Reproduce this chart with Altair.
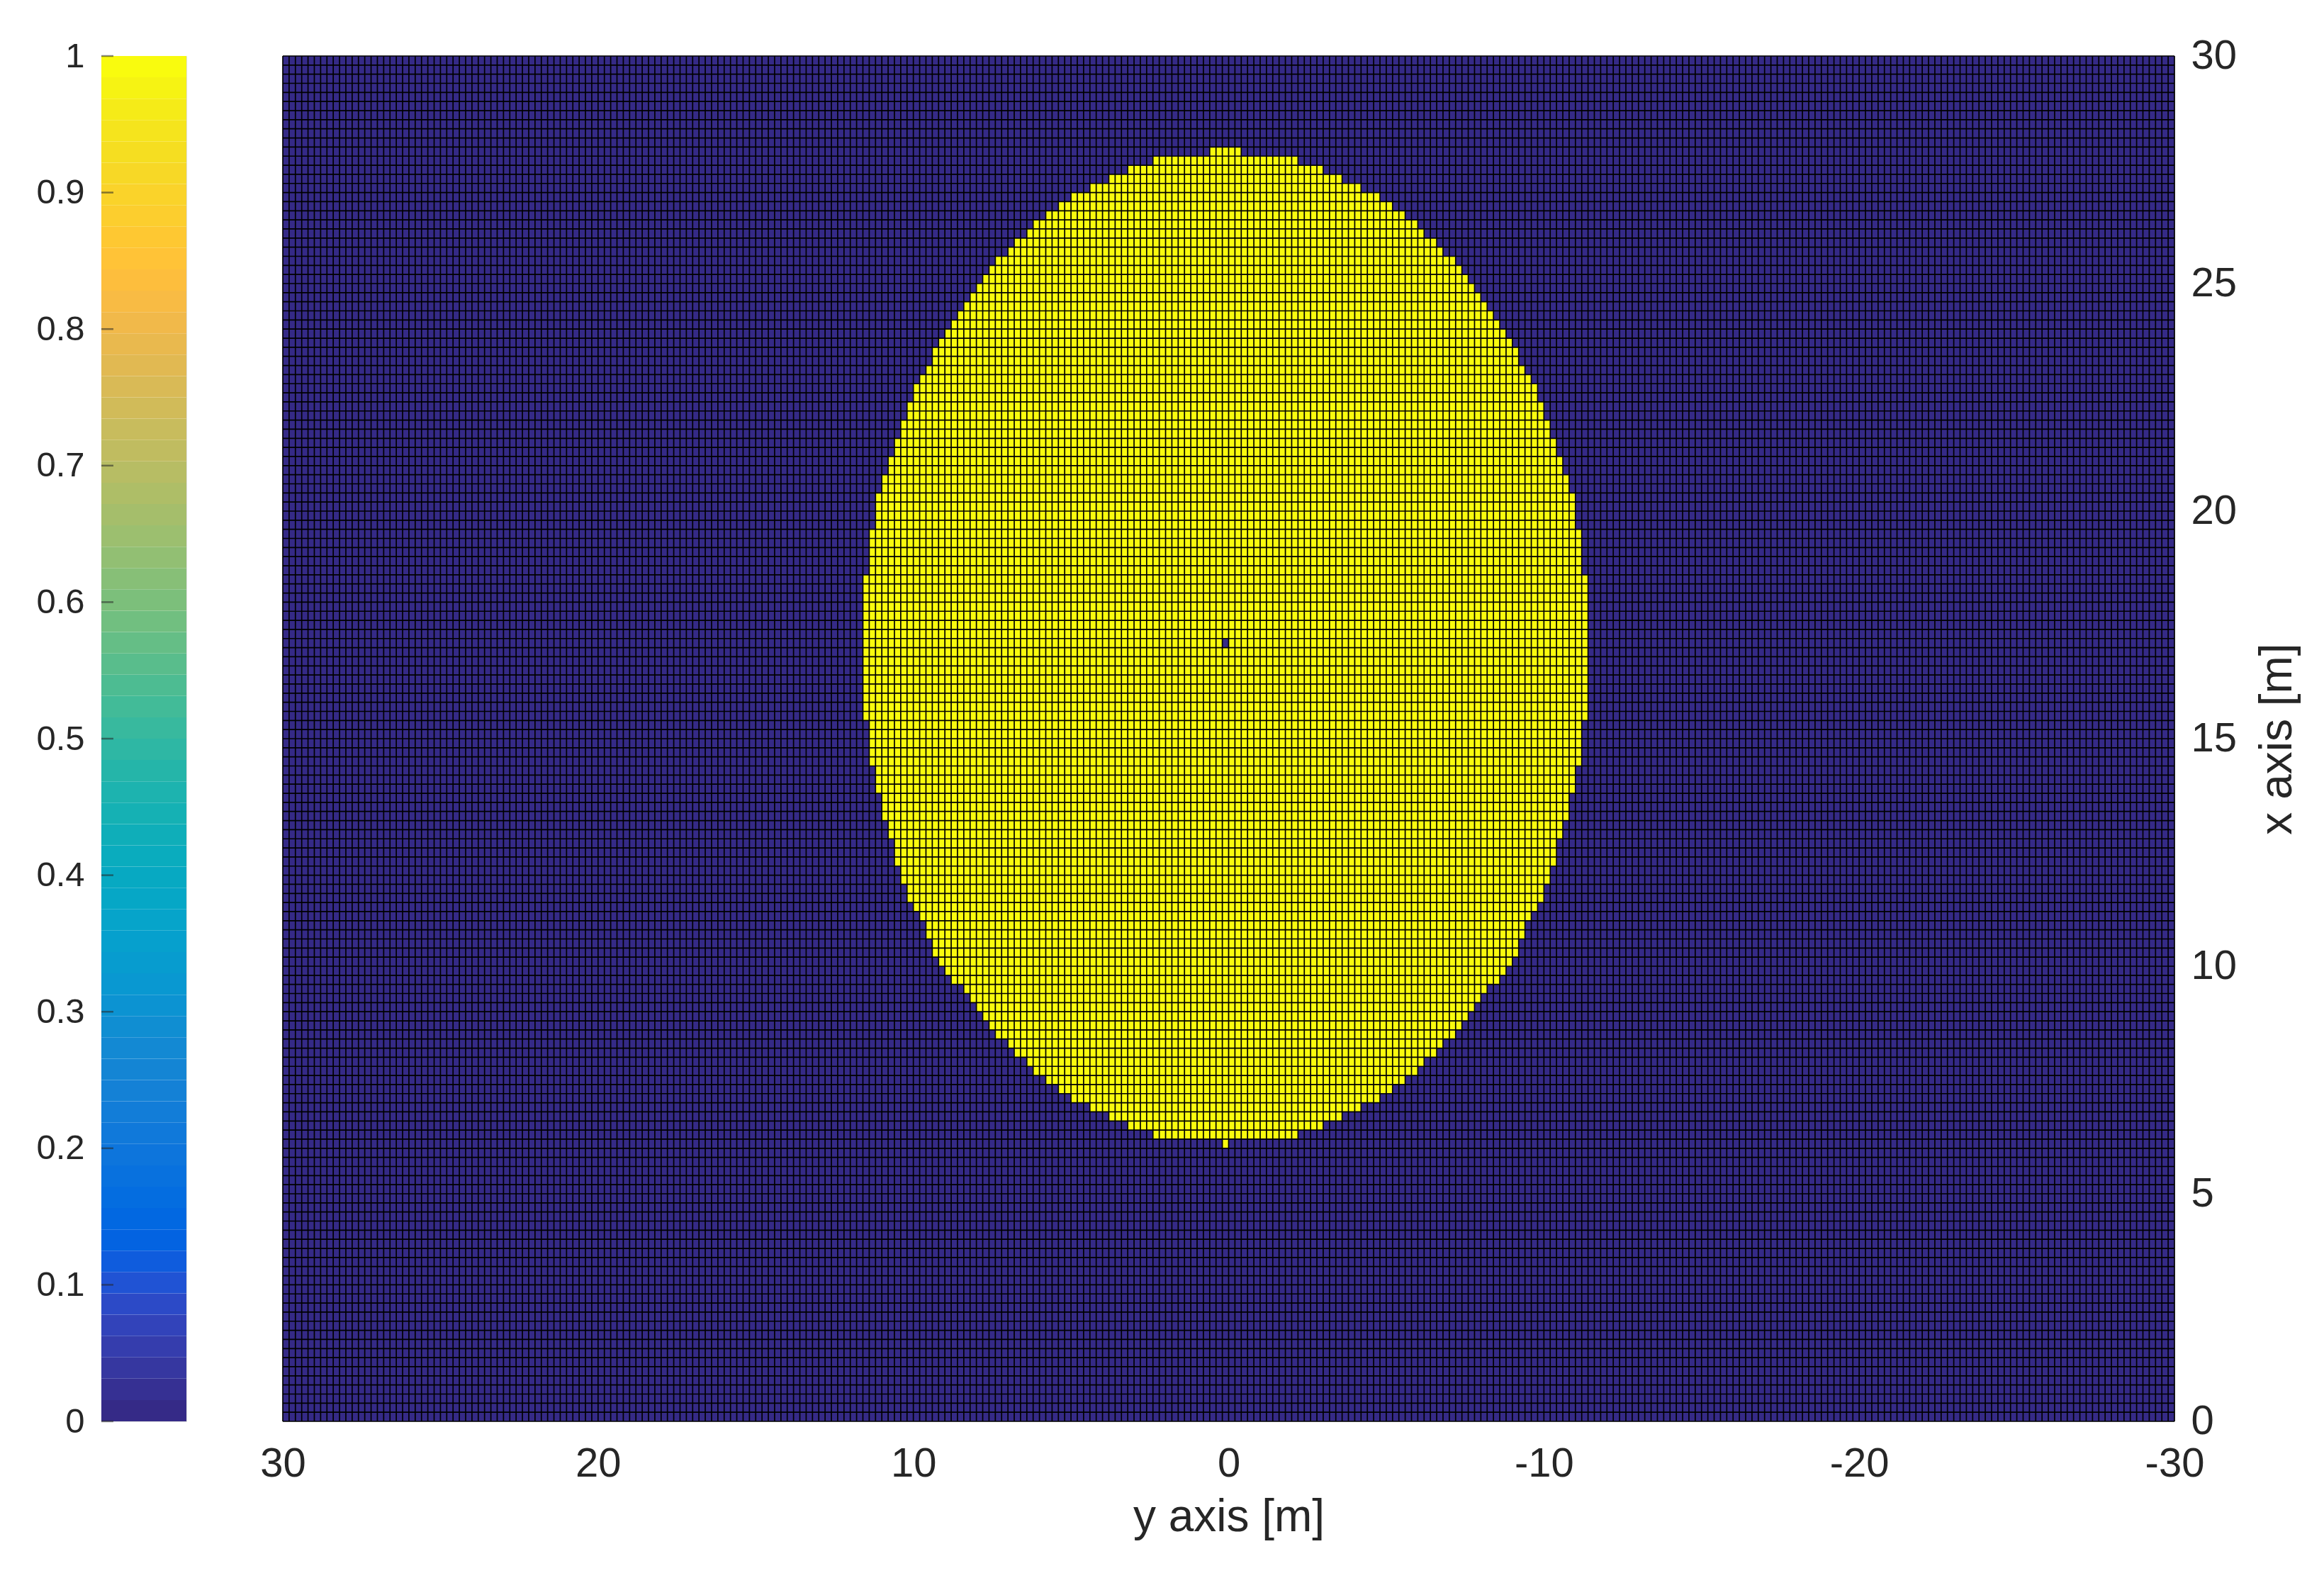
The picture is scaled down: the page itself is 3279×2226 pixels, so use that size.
import altair as alt
import pandas as pd

FONT = "Liberation Sans"
TXT = "#262626"

# grid cell size in metres (both directions)
CELL = 0.2
ROW_START = 6.0  # bottom edge of the lowest yellow row (x axis, m)

# yellow (value 1) region: per row, from bottom row (x = 6.0..6.2) to top row (27.8..28.0)
# left_edge / right_edge are the horizontal ("y axis") limits of the row in metres
left_edge = [
    0.2, 2.4, 3.2, 3.8, 4.4, 5.0, 5.4, 5.8, 6.2, 6.4,
    6.8, 7.0, 7.4, 7.6, 7.8, 8.0, 8.2, 8.4, 8.8, 9.0,
    9.2, 9.4, 9.4, 9.6, 9.6, 9.8, 10.0, 10.2, 10.2, 10.4,
    10.4, 10.6, 10.6, 10.6, 10.8, 10.8, 11.0, 11.0, 11.0, 11.2,
    11.2, 11.2, 11.4, 11.4, 11.4, 11.4, 11.4, 11.6, 11.6, 11.6,
    11.6, 11.6, 11.6, 11.6, 11.6, 11.6, 11.6, 11.6, 11.6, 11.6,
    11.6, 11.6, 11.6, 11.4, 11.4, 11.4, 11.4, 11.4, 11.2, 11.2,
    11.2, 11.2, 11.0, 11.0, 10.8, 10.8, 10.6, 10.6, 10.4, 10.4,
    10.2, 10.2, 10.0, 10.0, 9.8, 9.6, 9.4, 9.4, 9.2, 9.0,
    8.8, 8.6, 8.4, 8.2, 8.0, 7.8, 7.6, 7.4, 7.0, 6.8,
    6.4, 6.2, 5.8, 5.4, 5.0, 4.4, 3.8, 3.2, 2.4, 0.6,
]
right_edge = [
    0.0, -2.2, -3.0, -3.6, -4.2, -4.8, -5.2, -5.6, -6.0, -6.2,
    -6.6, -6.8, -7.2, -7.4, -7.6, -7.8, -8.0, -8.2, -8.6, -8.8,
    -9.0, -9.2, -9.2, -9.4, -9.4, -9.6, -9.8, -10.0, -10.0, -10.2,
    -10.2, -10.4, -10.4, -10.4, -10.6, -10.6, -10.8, -10.8, -10.8, -11.0,
    -11.0, -11.0, -11.2, -11.2, -11.2, -11.2, -11.2, -11.4, -11.4, -11.4,
    -11.4, -11.4, -11.4, -11.4, -11.4, -11.4, -11.4, -11.4, -11.4, -11.4,
    -11.4, -11.4, -11.4, -11.2, -11.2, -11.2, -11.2, -11.2, -11.0, -11.0,
    -11.0, -11.0, -10.8, -10.8, -10.6, -10.6, -10.4, -10.4, -10.2, -10.2,
    -10.0, -10.0, -9.8, -9.8, -9.6, -9.4, -9.2, -9.2, -9.0, -8.8,
    -8.6, -8.4, -8.2, -8.0, -7.8, -7.6, -7.4, -7.2, -6.8, -6.6,
    -6.2, -6.0, -5.6, -5.2, -4.8, -4.2, -3.6, -3.0, -2.2, -0.4,
]
# single value-0 cell inside the yellow region
hole_cell = {"h0": [0.2], "h1": [0.0], "v0": [17.0], "v1": [17.2]}

# parula colormap, 64 entries
parula = [
    "#352a87", "#363093", "#3637a0", "#353dad", "#3243ba", "#2c4ac7", "#2053d4", "#0f5cdd",
    "#0363e1", "#0268e1", "#046de0", "#0871de", "#0d75dc", "#1079da", "#127dd8", "#1481d6",
    "#1485d4", "#1389d3", "#108ed2", "#0c93d2", "#0998d1", "#079ccf", "#06a0cd", "#06a4ca",
    "#06a7c6", "#07a9c2", "#0aacbe", "#0faeb9", "#15b1b4", "#1db3af", "#25b5a9", "#2eb7a4",
    "#38b99e", "#42bb98", "#4dbc92", "#59bd8c", "#65be86", "#71bf80", "#7cbf7b", "#87bf77",
    "#92bf73", "#9cbf6f", "#a5be6b", "#aebe67", "#b7bd64", "#c0bc60", "#c8bc5d", "#d1bb59",
    "#d9ba56", "#e1b952", "#e9b94e", "#f1b94a", "#f8bb44", "#fdbe3d", "#ffc337", "#fec832",
    "#fcce2e", "#fad32a", "#f7d826", "#f5de21", "#f5e41d", "#f5eb18", "#f6f313", "#f9fb0e",
]
cbar_ticks = [0, 0.1, 0.2, 0.3, 0.4, 0.5, 0.6, 0.7, 0.8, 0.9, 1]
hor_ticks = [30, 20, 10, 0, -10, -20, -30]
ver_ticks = [0, 5, 10, 15, 20, 25, 30]

H_DOMAIN = [30, -30]
V_DOMAIN = [0, 30]

# ---------- data tables ----------
n_rows = len(left_edge)
spans = pd.DataFrame({
    "h0": left_edge,
    "h1": right_edge,
    "v0": [round(ROW_START + CELL * i, 2) for i in range(n_rows)],
    "v1": [round(ROW_START + CELL * (i + 1), 2) for i in range(n_rows)],
})
background = pd.DataFrame({"h0": [H_DOMAIN[0]], "h1": [H_DOMAIN[1]],
                           "v0": [V_DOMAIN[0]], "v1": [V_DOMAIN[1]]})
n_cols = int(round((H_DOMAIN[0] - H_DOMAIN[1]) / CELL))
n_vrows = int(round((V_DOMAIN[1] - V_DOMAIN[0]) / CELL))
col_lines = pd.DataFrame({"h0": [round(H_DOMAIN[0] - CELL * i, 2) for i in range(n_cols + 1)]})
row_lines = pd.DataFrame({"v0": [round(V_DOMAIN[0] + CELL * i, 2) for i in range(n_vrows + 1)]})

cb = pd.DataFrame({
    "lo": [i / len(parula) for i in range(len(parula))],
    "hi": [(i + 1) / len(parula) for i in range(len(parula))],
    "c": parula,
})
cb_t = pd.DataFrame({"t": cbar_ticks})

# ---------- main heat map ----------
xs = alt.Scale(domain=H_DOMAIN, nice=False, zero=False)
ys = alt.Scale(domain=V_DOMAIN, nice=False, zero=False)
xax = alt.Axis(values=hor_ticks, labelExpr="'' + datum.value", labelFontSize=58, labelFont=FONT,
               labelColor=TXT, ticks=False, domain=False, grid=False, labelPadding=31,
               labelFlush=False, titleFontSize=64, titleFont=FONT, titleColor=TXT,
               titleFontWeight="normal", titlePadding=14)
yax = alt.Axis(orient="right", values=ver_ticks, labelExpr="'' + datum.value", labelFontSize=58,
               labelFont=FONT, labelColor=TXT, ticks=False, domain=False, grid=False,
               labelPadding=23, labelFlush=False, titleFontSize=64, titleFont=FONT,
               titleColor=TXT, titleFontWeight="normal", titleAngle=270,
               titleBaseline="top", titlePadding=26)


def X(f):
    return alt.X(f"{f}:Q", scale=xs, axis=xax, title="y axis [m]")


def Y(f):
    return alt.Y(f"{f}:Q", scale=ys, axis=yax, title="x axis [m]")


LINE_W = 1.7
bg = alt.Chart(background).mark_rect(color=parula[0]).encode(
    x=X("h0"), x2="h1", y=Y("v0"), y2="v1")
ell = alt.Chart(spans).mark_rect(color=parula[-1]).encode(
    x=X("h0"), x2="h1", y=Y("v0"), y2="v1")
hole = alt.Chart(pd.DataFrame(hole_cell)).mark_rect(color=parula[0]).encode(
    x=X("h0"), x2="h1", y=Y("v0"), y2="v1")
vlines = alt.Chart(col_lines).mark_rule(color="black", strokeWidth=LINE_W).encode(x=X("h0"))
hlines = alt.Chart(row_lines).mark_rule(color="black", strokeWidth=LINE_W).encode(y=Y("v0"))

main = alt.layer(bg, ell, hole, vlines, hlines).properties(width=2669, height=1926)

# ---------- colour bar ----------
cys = alt.Scale(domain=[0, 1], nice=False, zero=False)
cax = alt.Axis(orient="left", values=cbar_ticks, labelExpr="'' + datum.value", labelFontSize=49,
               labelFont=FONT, labelColor=TXT, ticks=False, domain=False, grid=False,
               labelPadding=24, labelFlush=False)
bands = alt.Chart(cb).mark_rect().encode(
    y=alt.Y("lo:Q", scale=cys, axis=cax, title=None), y2="hi",
    x=alt.value(0), x2=alt.value(120),
    color=alt.Color("c:N", scale=None))
cticks = alt.Chart(cb_t).mark_rule(color="#262626", opacity=0.55, strokeWidth=2.5).encode(
    y=alt.Y("t:Q", scale=cys, axis=cax, title=None), x=alt.value(0), x2=alt.value(17))
cbar = alt.layer(bands, cticks).properties(width=120, height=1926)

chart = alt.hconcat(cbar, main, spacing=136, bounds="flush").properties(
    padding={"left": 42, "top": 41, "right": 10, "bottom": 10}
).configure_view(stroke="#8a8a8a", strokeWidth=3).configure(background="white")

chart.save("out.html", embed_options={"renderer": "svg", "actions": False})
